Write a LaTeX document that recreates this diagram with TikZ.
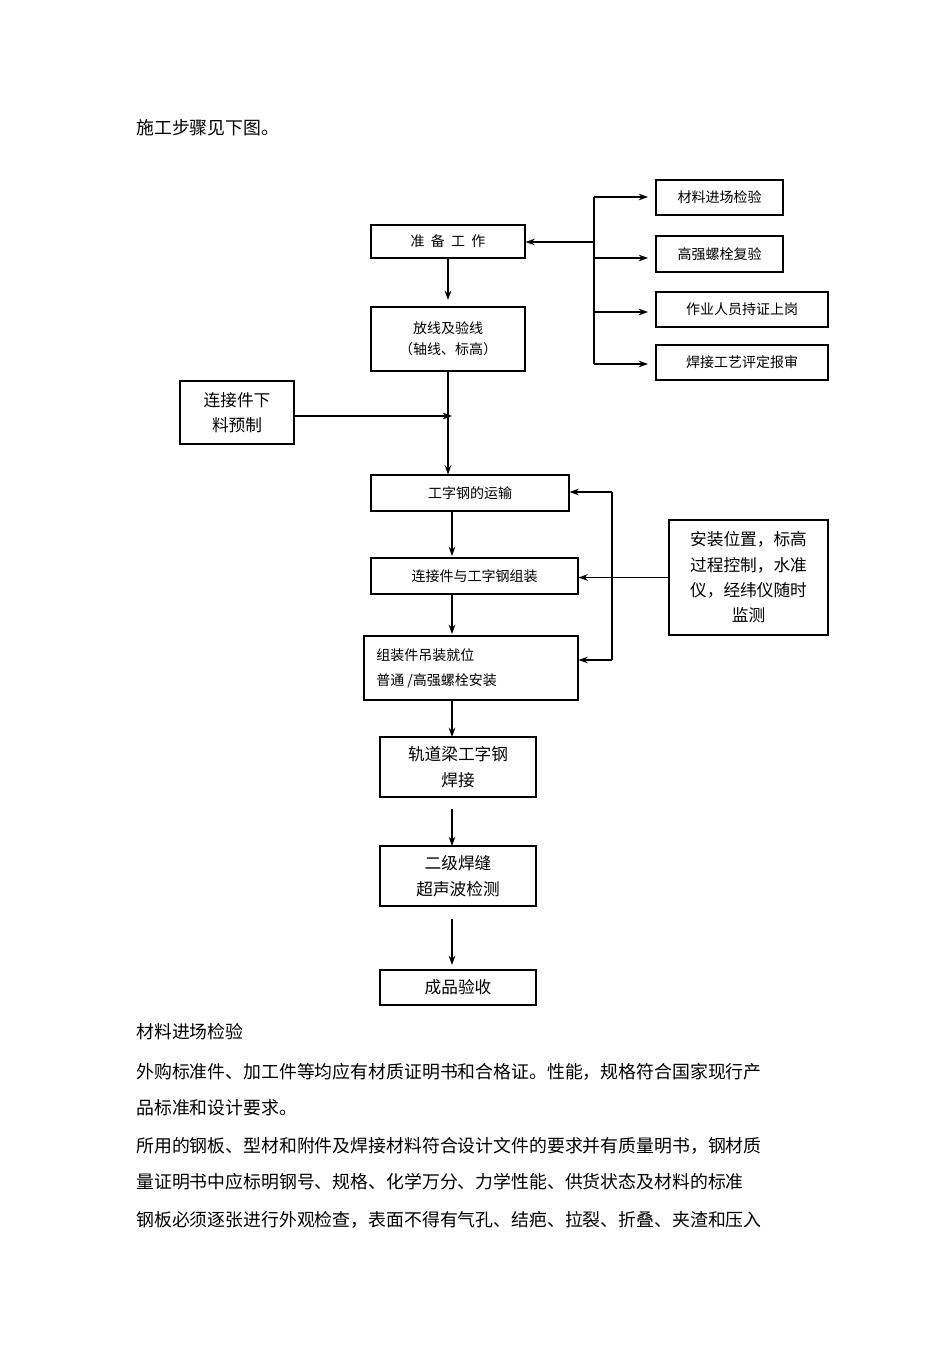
\documentclass[tikz,border=0pt]{standalone}
\usepackage{fontspec}
\setmainfont{Noto Sans CJK SC}
\usetikzlibrary{arrows.meta}
\begin{document}
\begin{tikzpicture}[x=0.75pt,y=-0.75pt,
 bx/.style={draw,line width=0.8pt,inner sep=0pt,align=center,font=\fontsize{10.5}{16}\selectfont},
 bb/.style={bx,font=\fontsize{12.5}{19}\selectfont},
 ar/.style={-{Stealth[length=7pt,width=5pt]},line width=0.9pt},
 ln/.style={line width=0.9pt},
 para/.style={anchor=west,inner sep=0pt,font=\fontsize{13.4}{15}\selectfont}]
\useasboundingbox (0,0) rectangle (950,1345);
\def\bxr#1#2#3#4#5#6{\node[#6,minimum width={(#3-#2)*0.75pt},minimum height={(#5-#4)*0.75pt}] (#1) at ({(#2+#3)/2},{(#4+#5)/2})}
\bxr{zb}{371}{525}{225}{258}{bx}{准\ \ 备\ \ 工\ \ 作};
\bxr{fx}{371}{525}{307}{371}{bx}{放线及验线\\（轴线、标高）};
\bxr{lj}{180}{294}{381}{444}{bb}{连接件下\\料预制};
\bxr{r1}{656}{783}{180}{215}{bx}{材料进场检验};
\bxr{r2}{656}{783}{236}{272}{bx}{高强螺栓复验};
\bxr{r3}{656}{828}{292}{327}{bx}{作业人员持证上岗};
\bxr{r4}{656}{828}{345}{380}{bx}{焊接工艺评定报审};
\bxr{ys}{371}{569}{475}{511}{bx}{工字钢的运输};
\bxr{zz}{371}{578}{558}{594}{bx}{连接件与工字钢组装};
\bxr{az}{669}{828}{520}{635}{bb}{安装位置，标高\\过程控制，水准\\仪，经纬仪随时\\监测};
\bxr{dz}{364}{578}{636}{700}{bx}{};
\node[anchor=west,align=left,inner sep=0pt,font=\fontsize{10.5}{19}\selectfont] (dzt) at (376,668) {组装件吊装就位\\普通 /高强螺栓安装};
\bxr{hj}{380}{536}{737}{797}{bb}{轨道梁工字钢\\焊接};
\bxr{cs}{380}{536}{846}{906}{bb}{二级焊缝\\超声波检测};
\bxr{cp}{380}{536}{970}{1005}{bb}{成品验收};
% main arrows
\draw[ar] (zb.south) -- (zb.south|-0,300);
\draw[ar] (fx.south) -- (ys.north-|fx.south);
\coordinate (m1) at (452,416);
\draw[ar] (lj.east|-m1) -- (m1);
\draw[ar] (452,511) -- (452,556);
\draw[ar] (452,594) -- (452,634);
\draw[ar] (452,700) -- (452,737);
\draw[ar] (452,809) -- (452,846);
\draw[ar] (452,919) -- (452,965);
% right bracket
\coordinate (b1) at (594,197); \coordinate (b4) at (594,364);
\draw[ln] (b1) -- (b4);
\draw[ar] (b1) -- (648,197);
\draw[ar] (594,258) -- (648,258);
\draw[ar] (594,312) -- (648,312);
\draw[ar] (b4) -- (648,364);
\draw[ar] (594,242) -- (zb.east|-0,242);
% feedback
\draw[ln] (612,492) -- (612,660);
\draw[ar] (612,492) -- (ys.east|-0,492);
\draw[ar] (612,660) -- (dz.east|-0,660);
\draw[ar] (az.west) -- (zz.east|-az.west);
% text
\node[para] (t0) at (136,128) {施工步骤见下图。};
\node[para] (t1) at (136,1032) {材料进场检验};
\node[para] (t2) at (136,1072) {外购标准件、加工件等均应有材质证明书和合格证。性能，规格符合国家现行产};
\node[para] (t3) at (136,1108) {品标准和设计要求。};
\node[para] (t4) at (136,1146) {所用的钢板、型材和附件及焊接材料符合设计文件的要求并有质量明书，钢材质};
\node[para] (t5) at (136,1182) {量证明书中应标明钢号、规格、化学万分、力学性能、供货状态及材料的标准};
\node[para] (t6) at (136,1220) {钢板必须逐张进行外观检查，表面不得有气孔、结疤、拉裂、折叠、夹渣和压入};
\end{tikzpicture}
\end{document}
